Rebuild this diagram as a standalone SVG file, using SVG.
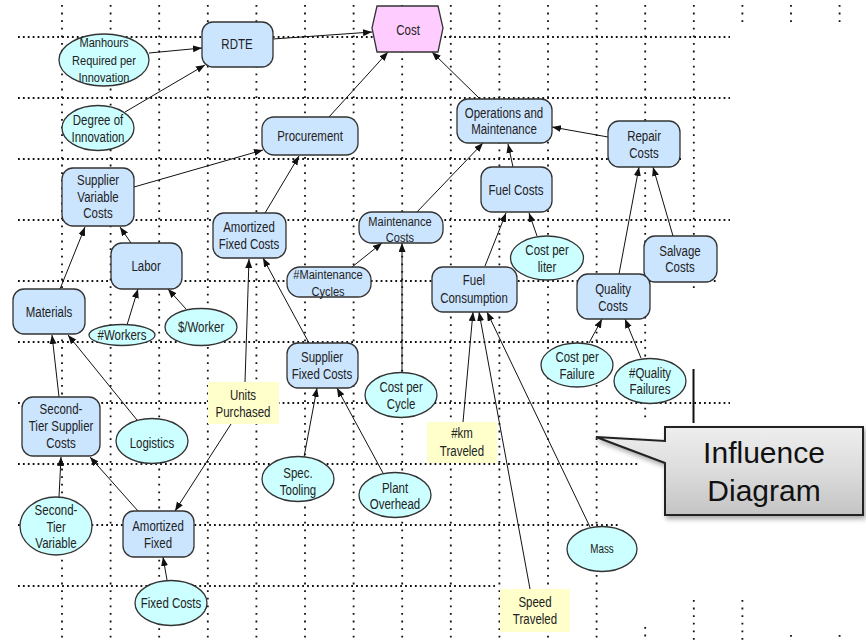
<svg xmlns="http://www.w3.org/2000/svg" width="866" height="642" viewBox="0 0 866 642">
<style>
.gh{stroke:#111;stroke-width:1.8;stroke-dasharray:1.8 3.1;fill:none}
.gv{stroke:#111;stroke-width:1.8;stroke-dasharray:1.8 5.8;fill:none}
.r{fill:#CCE5FF;stroke:#333;stroke-width:1.3}
.e{fill:#CCFFFF;stroke:#333;stroke-width:1.3}
.y{fill:#FFFFCC;stroke:none}
.t{font-family:"Liberation Sans",Arial,sans-serif;font-size:14px;fill:#222;text-anchor:middle;transform-box:fill-box;transform-origin:center;transform:scaleX(0.82)}
.s{font-size:13.5px}
.c{stroke:#111;stroke-width:1;fill:none;marker-end:url(#a)}
</style>
<defs>
<marker id="a" markerUnits="userSpaceOnUse" markerWidth="10" markerHeight="8" refX="9" refY="3.5" orient="auto"><path d="M0,0 L9,3.5 L0,7 z" fill="#111"/></marker>
<linearGradient id="g" x1="0" y1="0" x2="0" y2="1"><stop offset="0" stop-color="#eeeeee"/><stop offset="0.5" stop-color="#dcdcdc"/><stop offset="1" stop-color="#c4c4c4"/></linearGradient>
<filter id="sh" x="-10%" y="-10%" width="130%" height="140%"><feDropShadow dx="2" dy="3" stdDeviation="2.5" flood-color="#000" flood-opacity="0.35"/></filter>
</defs>
<rect width="866" height="642" fill="#fff"/>
<g id="grid">
<path class="gh" d="M18,37H730M18,98H730M18,159H681M18,220H730M18,281H717M18,342H642M18,403H730M18,464H640M18,525H620M18,586H495"/>
<path class="gv" d="M62,5V642M110.6,5V642M159.2,5V642M207.8,5V642M256.4,5V642M305,5V642M353.6,5V642M402.2,5V642M450.8,5V642M499.4,5V642M548,5V642M596.6,5V642M645.2,5V422M645.2,627V642M693.8,5V290M693.8,600V642M742.4,5V23M742.4,600V642M791,5V23M791,635V642M839.6,5V23M839.6,635V642"/>
<line x1="693.5" y1="369" x2="693.5" y2="423" stroke="#111" stroke-width="2"/>
</g>
<g id="connectors">
<line class="c" x1="149" y1="53" x2="202" y2="48"/>
<line class="c" x1="125" y1="112" x2="205" y2="65"/>
<line class="c" x1="273" y1="39" x2="372" y2="32"/>
<line class="c" x1="329" y1="117" x2="388" y2="52"/>
<line class="c" x1="479" y1="98" x2="432" y2="52"/>
<line class="c" x1="134" y1="187" x2="263" y2="150"/>
<line class="c" x1="265" y1="213" x2="299" y2="156"/>
<line class="c" x1="416" y1="213" x2="483" y2="143"/>
<line class="c" x1="513" y1="167" x2="508" y2="144"/>
<line class="c" x1="608" y1="137" x2="552" y2="127"/>
<line class="c" x1="537" y1="236" x2="529" y2="213"/>
<line class="c" x1="485" y1="266" x2="506" y2="213"/>
<line class="c" x1="619" y1="274" x2="639" y2="167"/>
<line class="c" x1="673" y1="236" x2="653" y2="167"/>
<line class="c" x1="589" y1="343" x2="602" y2="319"/>
<line class="c" x1="641" y1="358" x2="625" y2="319"/>
<line class="c" x1="131" y1="243" x2="120" y2="227"/>
<line class="c" x1="60" y1="289" x2="85" y2="227"/>
<line class="c" x1="127" y1="325" x2="138" y2="289"/>
<line class="c" x1="186" y1="309" x2="168" y2="289"/>
<line class="c" x1="59" y1="397" x2="52" y2="335"/>
<line class="c" x1="137" y1="420" x2="68" y2="335"/>
<line class="c" x1="59" y1="497" x2="61" y2="457"/>
<line class="c" x1="138" y1="511" x2="90" y2="457"/>
<line class="c" x1="231" y1="424" x2="175" y2="511"/>
<line class="c" x1="245" y1="382" x2="249" y2="259"/>
<line class="c" x1="309" y1="343" x2="263" y2="258"/>
<line class="c" x1="167" y1="580" x2="163" y2="557"/>
<line class="c" x1="352" y1="267" x2="382" y2="243"/>
<line class="c" x1="402" y1="373" x2="402" y2="243" stroke-width="2.6"/>
<line class="c" x1="304" y1="457" x2="317" y2="388"/>
<line class="c" x1="383" y1="473" x2="337" y2="388"/>
<line class="c" x1="463" y1="422" x2="473" y2="312"/>
<line class="c" x1="530" y1="589" x2="479" y2="312"/>
<line class="c" x1="590" y1="527" x2="487" y2="312"/>
</g>
<g id="cost"><path d="M377,6H438L443,28L438,52H377L372,28Z" fill="#FFCCFF" stroke="#333" stroke-width="1.3"/><text class="t" x="408" y="35">Cost</text></g>
<g id="rdte"><rect class="r" x="202" y="22" width="71" height="45" rx="11"/><text class="t" x="237" y="49">RDTE</text></g>
<g id="manhours"><ellipse class="e" cx="104" cy="60" rx="45" ry="26"/><text class="t s" x="104" y="47">Manhours</text><text class="t s" x="104" y="65">Required per</text><text class="t s" x="104" y="82">Innovation</text></g>
<g id="degree"><ellipse class="e" cx="98" cy="128" rx="36" ry="22.5"/><text class="t" x="98" y="125">Degree of</text><text class="t" x="98" y="142">Innovation</text></g>
<g id="procurement"><rect class="r" x="262" y="117" width="96" height="38" rx="12"/><text class="t" x="310" y="141">Procurement</text></g>
<g id="supvar"><rect class="r" x="62" y="168" width="72" height="58" rx="11"/><text class="t" x="98" y="185">Supplier</text><text class="t" x="98" y="202">Variable</text><text class="t" x="98" y="218">Costs</text></g>
<g id="om"><rect class="r" x="457" y="99" width="95" height="44" rx="11"/><text class="t" x="504" y="118">Operations and</text><text class="t" x="504" y="134">Maintenance</text></g>
<g id="fuelcosts"><rect class="r" x="481" y="167" width="71" height="45" rx="11"/><text class="t" x="516" y="195">Fuel Costs</text></g>
<g id="repair"><rect class="r" x="608" y="121" width="72" height="46" rx="11"/><text class="t" x="644" y="141">Repair</text><text class="t" x="644" y="158">Costs</text></g>
<g id="labor"><rect class="r" x="111" y="243" width="71" height="46" rx="11"/><text class="t" x="146" y="271">Labor</text></g>
<g id="materials"><rect class="r" x="13" y="289" width="72" height="45" rx="11"/><text class="t" x="49" y="317">Materials</text></g>
<g id="workers"><ellipse class="e" cx="122" cy="335" rx="33" ry="10.5"/><text class="t" x="122" y="340">#Workers</text></g>
<g id="perworker"><ellipse class="e" cx="201" cy="327" rx="36" ry="18.5"/><text class="t" x="201" y="332">$/Worker</text></g>
<g id="amfixedcosts"><rect class="r" x="213" y="213" width="73" height="45" rx="11"/><text class="t" x="249" y="232">Amortized</text><text class="t" x="249" y="249">Fixed Costs</text></g>
<g id="maintcosts"><rect class="r" x="359" y="212" width="84" height="31" rx="13"/><text class="t s" x="400" y="226">Maintenance</text><text class="t s" x="400" y="242">Costs</text></g>
<g id="maintcycles"><rect class="r" x="287" y="267" width="84" height="30" rx="13"/><text class="t s" x="328" y="279">#Maintenance</text><text class="t s" x="328" y="296">Cycles</text></g>
<g id="fuelcons"><rect class="r" x="432" y="267" width="85" height="45" rx="11"/><text class="t" x="474" y="285">Fuel</text><text class="t" x="474" y="303">Consumption</text></g>
<g id="costliter"><ellipse class="e" cx="547" cy="258" rx="36.5" ry="22"/><text class="t" x="547" y="255">Cost per</text><text class="t" x="547" y="272">liter</text></g>
<g id="salvage"><rect class="r" x="644" y="236" width="73" height="46" rx="11"/><text class="t" x="680" y="256">Salvage</text><text class="t" x="680" y="272">Costs</text></g>
<g id="quality"><rect class="r" x="577" y="274" width="73" height="45" rx="11"/><text class="t" x="613" y="294">Quality</text><text class="t" x="613" y="311">Costs</text></g>
<g id="costfailure"><ellipse class="e" cx="577" cy="365" rx="36" ry="22"/><text class="t" x="577" y="362">Cost per</text><text class="t" x="577" y="379">Failure</text></g>
<g id="qualfail"><ellipse class="e" cx="650" cy="381" rx="36" ry="22.5"/><text class="t" x="650" y="378">#Quality</text><text class="t" x="650" y="394">Failures</text></g>
<g id="supfixed"><rect class="r" x="287" y="343" width="71" height="45" rx="11"/><text class="t" x="322" y="362">Supplier</text><text class="t" x="322" y="379">Fixed Costs</text></g>
<g id="costcycle"><ellipse class="e" cx="401" cy="395" rx="36" ry="22.5"/><text class="t" x="401" y="392">Cost per</text><text class="t" x="401" y="409">Cycle</text></g>
<g id="units"><rect class="y" x="208" y="382" width="71" height="42"/><text class="t" x="243" y="400">Units</text><text class="t" x="243" y="417">Purchased</text></g>
<g id="secondtier"><rect class="r" x="22" y="397" width="78" height="59" rx="11"/><text class="t" x="61" y="414">Second-</text><text class="t" x="61" y="431">Tier Supplier</text><text class="t" x="61" y="448">Costs</text></g>
<g id="logistics"><ellipse class="e" cx="152" cy="441" rx="36" ry="22.5"/><text class="t" x="152" y="448">Logistics</text></g>
<g id="km"><rect class="y" x="427" y="422" width="70" height="41"/><text class="t" x="462" y="438">#km</text><text class="t" x="462" y="456">Traveled</text></g>
<g id="spec"><ellipse class="e" cx="298" cy="479" rx="36" ry="22.5"/><text class="t" x="298" y="478">Spec.</text><text class="t" x="298" y="495">Tooling</text></g>
<g id="plant"><ellipse class="e" cx="395" cy="495" rx="36" ry="22.5"/><text class="t" x="395" y="493">Plant</text><text class="t" x="395" y="509">Overhead</text></g>
<g id="stvar"><ellipse class="e" cx="56" cy="526" rx="36" ry="29"/><text class="t" x="56" y="515">Second-</text><text class="t" x="56" y="532">Tier</text><text class="t" x="56" y="548">Variable</text></g>
<g id="amfixed"><rect class="r" x="123" y="511" width="71" height="46" rx="11"/><text class="t" x="158" y="531">Amortized</text><text class="t" x="158" y="548">Fixed</text></g>
<g id="fixedcosts"><ellipse class="e" cx="171" cy="603" rx="36" ry="22.5"/><text class="t" x="171" y="608">Fixed Costs</text></g>
<g id="mass"><ellipse class="e" cx="602" cy="549" rx="35" ry="22.5"/><text class="t" x="602" y="553" style="font-size:12px">Mass</text></g>
<g id="speed"><rect class="y" x="500" y="589" width="70" height="43"/><text class="t" x="535" y="607">Speed</text><text class="t" x="535" y="624">Traveled</text></g>
<g id="callout"><path d="M665,427H863V515H665V463L596,437L665,441Z" fill="url(#g)" stroke="#222" stroke-width="2" stroke-linejoin="miter" filter="url(#sh)"/><text x="764" y="463" font-family="Liberation Sans,Arial,sans-serif" font-size="30" fill="#111" text-anchor="middle">Influence</text><text x="764" y="501" font-family="Liberation Sans,Arial,sans-serif" font-size="30" fill="#111" text-anchor="middle">Diagram</text></g>
</svg>
